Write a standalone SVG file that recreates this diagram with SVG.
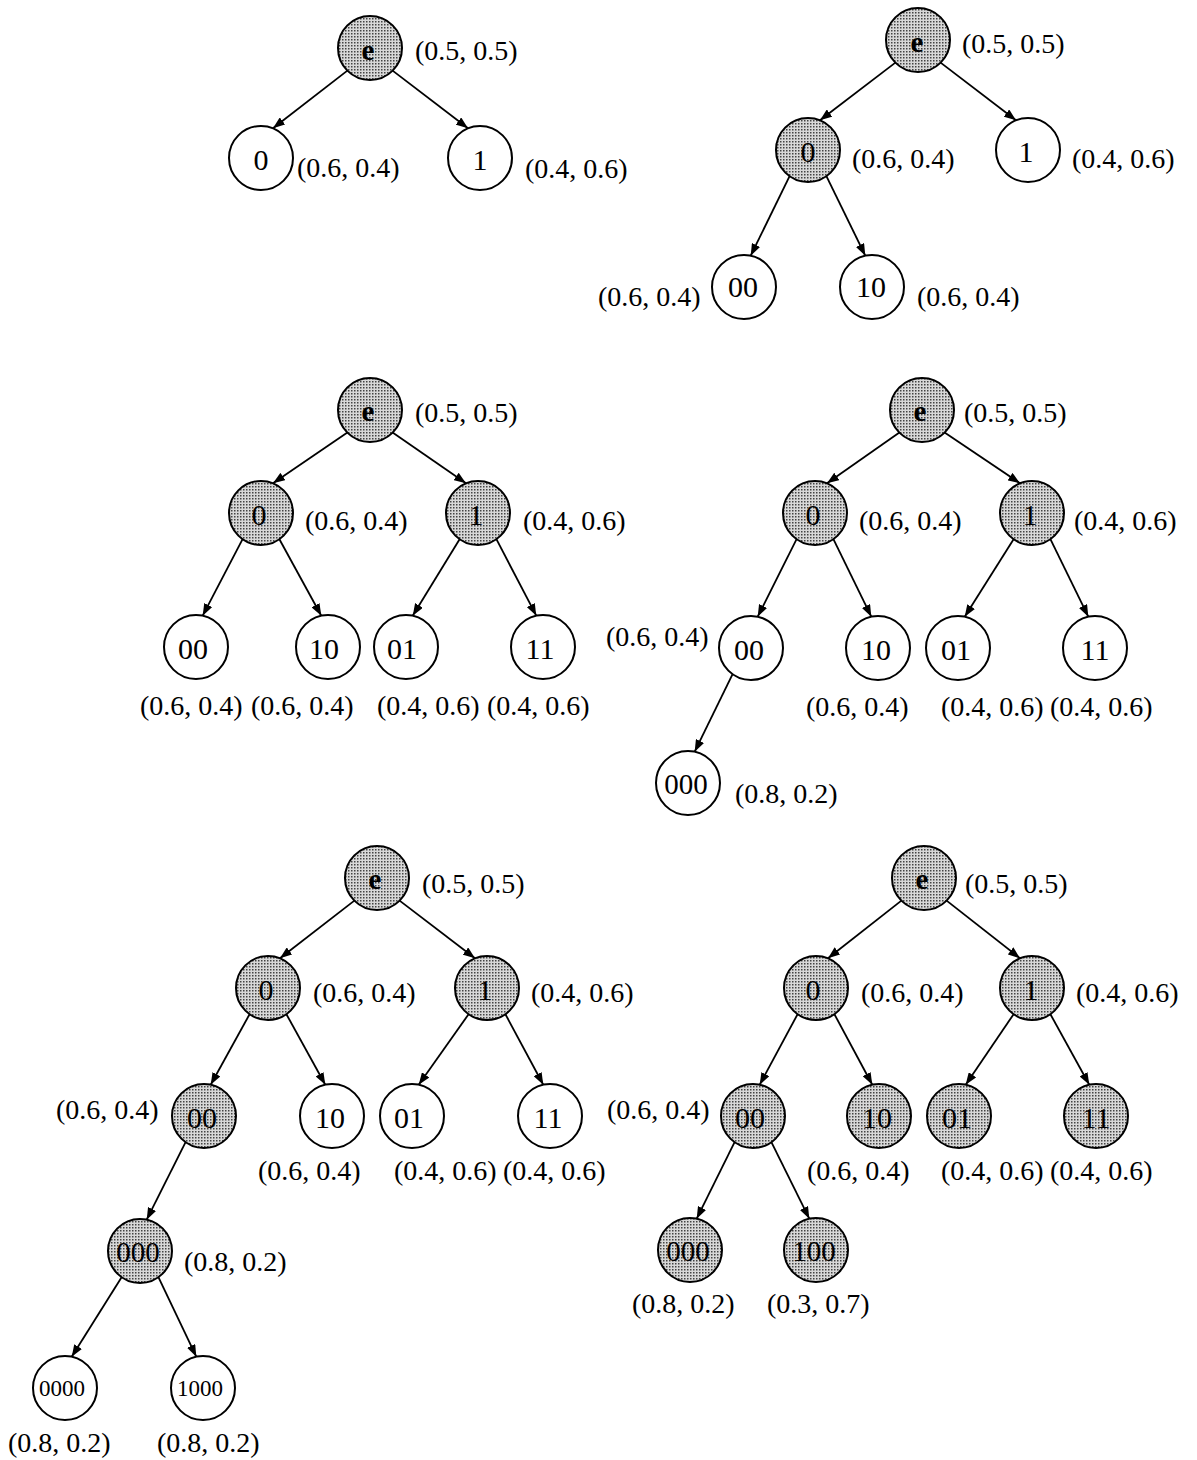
<svg xmlns="http://www.w3.org/2000/svg" width="1197" height="1460" viewBox="0 0 1197 1460">
<style>
.w{fill:#fff;stroke:#000;stroke-width:2}
.s{fill:url(#dots);stroke:#000;stroke-width:2}
.t{font-family:"Liberation Serif","Times New Roman",serif;font-size:30px;text-anchor:middle;fill:#000}
.t3{font-size:29px}
.t4{font-size:23px}
.b{font-weight:bold;font-size:29px}
.lb{font-family:"Liberation Serif","Times New Roman",serif;font-size:28px;fill:#000}
.e{stroke:#000;stroke-width:1.8;fill:none;marker-end:url(#ah)}
</style>
<defs>
<pattern id="dots" width="3" height="3" patternUnits="userSpaceOnUse">
<rect width="3" height="3" fill="#d8d8d8"/>
<rect width="1.5" height="1.5" fill="#444"/>
</pattern>
<marker id="ah" markerUnits="userSpaceOnUse" markerWidth="13" markerHeight="9" refX="12" refY="4.5" orient="auto">
<path d="M0,0 L12,4.5 L0,9 Z" fill="#000"/>
</marker>
</defs>
<rect width="1197" height="1460" fill="#fff"/>

<g id="connectors">
<!-- tree 1 -->
<line class="e" x1="347.4" y1="70.6" x2="273" y2="128.3"/>
<line class="e" x1="392.6" y1="70.6" x2="468" y2="128.3"/>
<!-- tree 2 -->
<line class="e" x1="895.4" y1="62.6" x2="820" y2="120.3"/>
<line class="e" x1="940.6" y1="62.6" x2="1016" y2="120.3"/>
<line class="e" x1="789.6" y1="176.2" x2="750.7" y2="255.7"/>
<line class="e" x1="826.4" y1="176.2" x2="865.3" y2="255.7"/>
<!-- tree 3 -->
<line class="e" x1="347.4" y1="432.6" x2="273" y2="483.3"/>
<line class="e" x1="392.6" y1="432.6" x2="466" y2="483.3"/>
<line class="e" x1="242.6" y1="539.2" x2="202.7" y2="615.7"/>
<line class="e" x1="279.4" y1="539.2" x2="321.3" y2="615.7"/>
<line class="e" x1="459.6" y1="539.2" x2="412.7" y2="615.7"/>
<line class="e" x1="496.4" y1="539.2" x2="536.3" y2="615.7"/>
<!-- tree 4 -->
<line class="e" x1="899.4" y1="432.6" x2="827" y2="483.3"/>
<line class="e" x1="944.6" y1="432.6" x2="1020" y2="483.3"/>
<line class="e" x1="796.6" y1="539.2" x2="757.7" y2="616.7"/>
<line class="e" x1="833.4" y1="539.2" x2="871.3" y2="616.7"/>
<line class="e" x1="1013.6" y1="539.2" x2="964.7" y2="616.7"/>
<line class="e" x1="1050.4" y1="539.2" x2="1088.3" y2="616.7"/>
<line class="e" x1="732.6" y1="674.2" x2="694.7" y2="751.7"/>
<!-- tree 5 -->
<line class="e" x1="354.4" y1="900.6" x2="280" y2="958.3"/>
<line class="e" x1="399.6" y1="900.6" x2="475" y2="958.3"/>
<line class="e" x1="249.6" y1="1014.2" x2="210.7" y2="1084.7"/>
<line class="e" x1="286.4" y1="1014.2" x2="325.3" y2="1084.7"/>
<line class="e" x1="468.6" y1="1014.2" x2="418.7" y2="1084.7"/>
<line class="e" x1="505.4" y1="1014.2" x2="543.3" y2="1084.7"/>
<line class="e" x1="185.6" y1="1142.2" x2="146.7" y2="1219.7"/>
<line class="e" x1="121.6" y1="1277.2" x2="71.7" y2="1356.7"/>
<line class="e" x1="158.4" y1="1277.2" x2="196.3" y2="1356.7"/>
<!-- tree 6 -->
<line class="e" x1="901.4" y1="900.6" x2="828" y2="958.3"/>
<line class="e" x1="946.6" y1="900.6" x2="1020" y2="958.3"/>
<line class="e" x1="797.6" y1="1014.2" x2="759.7" y2="1084.7"/>
<line class="e" x1="834.4" y1="1014.2" x2="872.3" y2="1084.7"/>
<line class="e" x1="1013.6" y1="1014.2" x2="965.7" y2="1084.7"/>
<line class="e" x1="1050.4" y1="1014.2" x2="1089.3" y2="1084.7"/>
<line class="e" x1="734.6" y1="1142.2" x2="696.7" y2="1218.7"/>
<line class="e" x1="771.4" y1="1142.2" x2="809.3" y2="1218.7"/>
</g>

<!-- Tree 1 -->
<g id="t1-e"><circle class="s" cx="370" cy="48" r="32"/><text class="t b" x="368" y="60">e</text><text class="lb" x="415" y="60">(0.5, 0.5)</text></g>
<g id="t1-0"><circle class="w" cx="261" cy="158" r="32"/><text class="t" x="261" y="170">0</text><text class="lb" x="297" y="177">(0.6, 0.4)</text></g>
<g id="t1-1"><circle class="w" cx="480" cy="158" r="32"/><text class="t" x="480" y="170">1</text><text class="lb" x="525" y="178">(0.4, 0.6)</text></g>

<!-- Tree 2 -->
<g id="t2-e"><circle class="s" cx="918" cy="40" r="32"/><text class="t b" x="917" y="52">e</text><text class="lb" x="962" y="53">(0.5, 0.5)</text></g>
<g id="t2-0"><circle class="s" cx="808" cy="150" r="32"/><text class="t" x="808" y="162">0</text><text class="lb" x="852" y="168">(0.6, 0.4)</text></g>
<g id="t2-1"><circle class="w" cx="1028" cy="150" r="32"/><text class="t" x="1026" y="162">1</text><text class="lb" x="1072" y="168">(0.4, 0.6)</text></g>
<g id="t2-00"><circle class="w" cx="744" cy="287" r="32"/><text class="t" x="743" y="297">00</text><text class="lb" x="598" y="306">(0.6, 0.4)</text></g>
<g id="t2-10"><circle class="w" cx="872" cy="287" r="32"/><text class="t" x="871" y="297">10</text><text class="lb" x="917" y="306">(0.6, 0.4)</text></g>

<!-- Tree 3 -->
<g id="t3-e"><circle class="s" cx="370" cy="410" r="32"/><text class="t b" x="368" y="421">e</text><text class="lb" x="415" y="422">(0.5, 0.5)</text></g>
<g id="t3-0"><circle class="s" cx="261" cy="513" r="32"/><text class="t" x="259" y="525">0</text><text class="lb" x="305" y="530">(0.6, 0.4)</text></g>
<g id="t3-1"><circle class="s" cx="478" cy="513" r="32"/><text class="t" x="476" y="525">1</text><text class="lb" x="523" y="530">(0.4, 0.6)</text></g>
<g id="t3-00"><circle class="w" cx="196" cy="647" r="32"/><text class="t" x="193" y="659">00</text><text class="lb" x="140" y="715">(0.6, 0.4)</text></g>
<g id="t3-10"><circle class="w" cx="328" cy="647" r="32"/><text class="t" x="324" y="659">10</text><text class="lb" x="251" y="715">(0.6, 0.4)</text></g>
<g id="t3-01"><circle class="w" cx="406" cy="647" r="32"/><text class="t" x="402" y="659">01</text><text class="lb" x="377" y="715">(0.4, 0.6)</text></g>
<g id="t3-11"><circle class="w" cx="543" cy="647" r="32"/><text class="t" x="540" y="659">11</text><text class="lb" x="487" y="715">(0.4, 0.6)</text></g>

<!-- Tree 4 -->
<g id="t4-e"><circle class="s" cx="922" cy="410" r="32"/><text class="t b" x="920" y="421">e</text><text class="lb" x="964" y="422">(0.5, 0.5)</text></g>
<g id="t4-0"><circle class="s" cx="815" cy="513" r="32"/><text class="t" x="813" y="525">0</text><text class="lb" x="859" y="530">(0.6, 0.4)</text></g>
<g id="t4-1"><circle class="s" cx="1032" cy="513" r="32"/><text class="t" x="1030" y="525">1</text><text class="lb" x="1074" y="530">(0.4, 0.6)</text></g>
<g id="t4-00"><circle class="w" cx="751" cy="648" r="32"/><text class="t" x="749" y="660">00</text><text class="lb" x="606" y="646">(0.6, 0.4)</text></g>
<g id="t4-10"><circle class="w" cx="878" cy="648" r="32"/><text class="t" x="876" y="660">10</text><text class="lb" x="806" y="716">(0.6, 0.4)</text></g>
<g id="t4-01"><circle class="w" cx="958" cy="648" r="32"/><text class="t" x="956" y="660">01</text><text class="lb" x="941" y="716">(0.4, 0.6)</text></g>
<g id="t4-11"><circle class="w" cx="1095" cy="648" r="32"/><text class="t" x="1095" y="660">11</text><text class="lb" x="1050" y="716">(0.4, 0.6)</text></g>
<g id="t4-000"><circle class="w" cx="688" cy="783" r="32"/><text class="t t3" x="686" y="794">000</text><text class="lb" x="735" y="803">(0.8, 0.2)</text></g>

<!-- Tree 5 -->
<g id="t5-e"><circle class="s" cx="377" cy="878" r="32"/><text class="t b" x="375" y="889">e</text><text class="lb" x="422" y="893">(0.5, 0.5)</text></g>
<g id="t5-0"><circle class="s" cx="268" cy="988" r="32"/><text class="t" x="266" y="1000">0</text><text class="lb" x="313" y="1002">(0.6, 0.4)</text></g>
<g id="t5-1"><circle class="s" cx="487" cy="988" r="32"/><text class="t" x="485" y="1000">1</text><text class="lb" x="531" y="1002">(0.4, 0.6)</text></g>
<g id="t5-00"><circle class="s" cx="204" cy="1116" r="32"/><text class="t" x="202" y="1128">00</text><text class="lb" x="56" y="1119">(0.6, 0.4)</text></g>
<g id="t5-10"><circle class="w" cx="332" cy="1116" r="32"/><text class="t" x="330" y="1128">10</text><text class="lb" x="258" y="1180">(0.6, 0.4)</text></g>
<g id="t5-01"><circle class="w" cx="412" cy="1116" r="32"/><text class="t" x="409" y="1128">01</text><text class="lb" x="394" y="1180">(0.4, 0.6)</text></g>
<g id="t5-11"><circle class="w" cx="550" cy="1116" r="32"/><text class="t" x="548" y="1128">11</text><text class="lb" x="503" y="1180">(0.4, 0.6)</text></g>
<g id="t5-000"><circle class="s" cx="140" cy="1251" r="32"/><text class="t t3" x="138" y="1262">000</text><text class="lb" x="184" y="1271">(0.8, 0.2)</text></g>
<g id="t5-0000"><circle class="w" cx="65" cy="1388" r="32"/><text class="t t4" x="62" y="1396">0000</text><text class="lb" x="8" y="1452">(0.8, 0.2)</text></g>
<g id="t5-1000"><circle class="w" cx="203" cy="1388" r="32"/><text class="t t4" x="200" y="1396">1000</text><text class="lb" x="157" y="1452">(0.8, 0.2)</text></g>

<!-- Tree 6 -->
<g id="t6-e"><circle class="s" cx="924" cy="878" r="32"/><text class="t b" x="922" y="889">e</text><text class="lb" x="965" y="893">(0.5, 0.5)</text></g>
<g id="t6-0"><circle class="s" cx="816" cy="988" r="32"/><text class="t" x="813" y="1000">0</text><text class="lb" x="861" y="1002">(0.6, 0.4)</text></g>
<g id="t6-1"><circle class="s" cx="1032" cy="988" r="32"/><text class="t" x="1031" y="1000">1</text><text class="lb" x="1076" y="1002">(0.4, 0.6)</text></g>
<g id="t6-00"><circle class="s" cx="753" cy="1116" r="32"/><text class="t" x="750" y="1128">00</text><text class="lb" x="607" y="1119">(0.6, 0.4)</text></g>
<g id="t6-10"><circle class="s" cx="879" cy="1116" r="32"/><text class="t" x="877" y="1128">10</text><text class="lb" x="807" y="1180">(0.6, 0.4)</text></g>
<g id="t6-01"><circle class="s" cx="959" cy="1116" r="32"/><text class="t" x="957" y="1128">01</text><text class="lb" x="941" y="1180">(0.4, 0.6)</text></g>
<g id="t6-11"><circle class="s" cx="1096" cy="1116" r="32"/><text class="t" x="1096" y="1128">11</text><text class="lb" x="1050" y="1180">(0.4, 0.6)</text></g>
<g id="t6-000"><circle class="s" cx="690" cy="1250" r="32"/><text class="t t3" x="688" y="1261">000</text><text class="lb" x="632" y="1313">(0.8, 0.2)</text></g>
<g id="t6-100"><circle class="s" cx="816" cy="1250" r="32"/><text class="t t3" x="814" y="1261">100</text><text class="lb" x="767" y="1313">(0.3, 0.7)</text></g>
</svg>
